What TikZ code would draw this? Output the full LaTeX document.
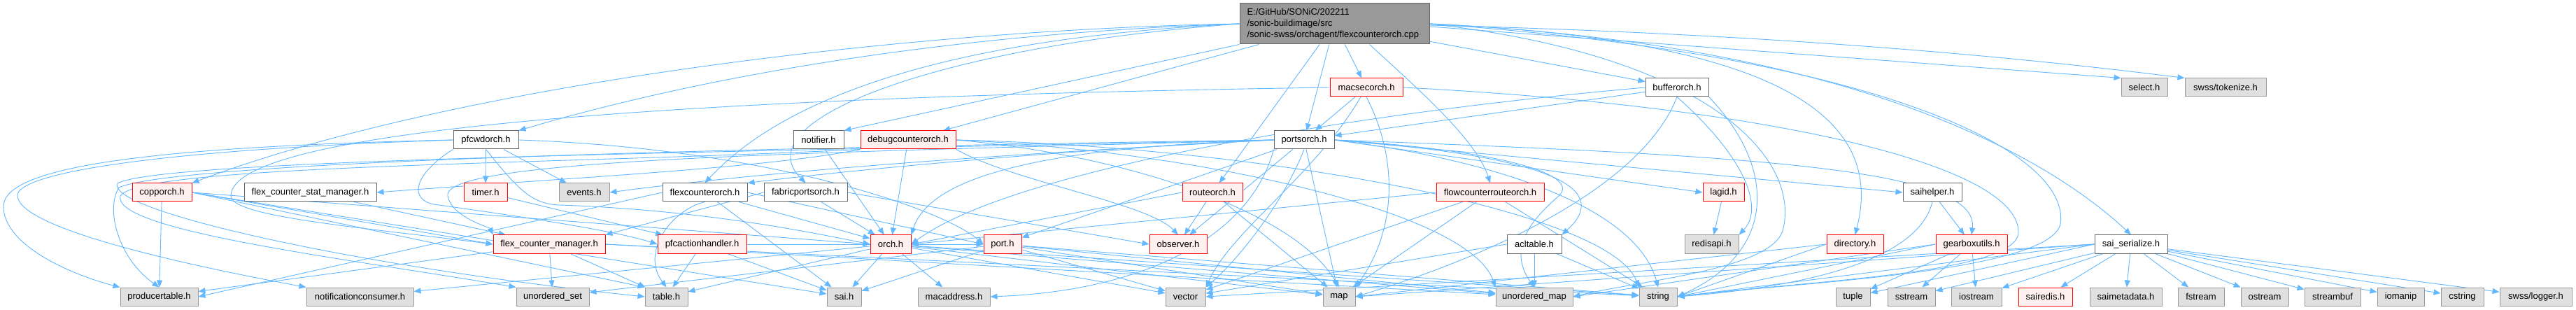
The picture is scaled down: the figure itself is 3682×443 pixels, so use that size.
\documentclass[tikz,border=0pt]{standalone}
\usepackage{fontspec}
\setmainfont{Liberation Sans}
\usetikzlibrary{arrows.meta,calc}
\definecolor{edgec}{HTML}{63B8FF}
\definecolor{redfill}{HTML}{FFF0F0}
\definecolor{grayfill}{HTML}{E0E0E0}
\definecolor{graydraw}{HTML}{999999}
\definecolor{rootfill}{HTML}{999999}
\definecolor{darkdraw}{HTML}{666666}
\pgfdeclarelayer{bg}
\pgfdeclarelayer{edges}
\pgfsetlayers{bg,edges,main}
\tikzset{
 box/.style={draw, line width=1pt, inner sep=0pt, minimum height=26pt, font=\fontsize{13}{15}\selectfont, anchor=center, text=black},
 wbox/.style={box, fill=white, draw=darkdraw},
 rbox/.style={box, fill=redfill, draw=red},
 gbox/.style={box, fill=grayfill, draw=graydraw},
 rootbox/.style={box, fill=rootfill, draw=darkdraw, minimum width=271pt, minimum height=58pt, text width=250pt, align=left, font=\fontsize{13}{16}\selectfont},
 e/.style={draw=edgec, line width=0.9pt, -{Triangle[length=10pt,width=8pt]}, fill=none},
}
\begin{document}
\begin{tikzpicture}[x=1pt,y=-1pt]
\begin{pgfonlayer}{bg}
\fill[white] (0,0) rectangle (3682,443);
\end{pgfonlayer}
\useasboundingbox (0,0) rectangle (3682,443);
% row 0
\node[rootbox] (root) at (1907.5,34) {E:/GitHub/SONiC/202211\\/sonic-buildimage/src\\/sonic-swss/orchagent/flexcounterorch.cpp};
% row 1
\node[rbox, minimum width=104pt] (macsec) at (1953,125) {macsecorch.h};
\node[wbox, minimum width=90pt] (buffer) at (2397,125) {bufferorch.h};
\node[gbox, minimum width=66pt] (select) at (3065,125) {select.h};
\node[gbox, minimum width=116pt] (tokenize) at (3181,125) {swss/tokenize.h};
% row 2
\node[wbox, minimum width=93pt] (pfcwd) at (694.5,200) {pfcwdorch.h};
\node[wbox, minimum width=72pt] (notifier) at (1170,200) {notifier.h};
\node[rbox, minimum width=136pt] (debugc) at (1298,200) {debugcounterorch.h};
\node[wbox, minimum width=86pt] (ports) at (1864,200) {portsorch.h};
% row 3
\node[rbox, minimum width=85pt] (copp) at (231.5,275) {copporch.h};
\node[wbox, minimum width=189pt] (fcstat) at (443.5,275) {flex\_counter\_stat\_manager.h};
\node[rbox, minimum width=62pt] (timer) at (694,275) {timer.h};
\node[gbox, minimum width=72pt] (events) at (835,275) {events.h};
\node[wbox, minimum width=121pt] (flexco) at (1007.5,275) {flexcounterorch.h};
\node[wbox, minimum width=119pt] (fabric) at (1151.5,275) {fabricportsorch.h};
\node[rbox, minimum width=86pt] (route) at (1733,275) {routeorch.h};
\node[rbox, minimum width=154pt] (flowc) at (2130,275) {flowcounterrouteorch.h};
\node[rbox, minimum width=59pt] (lagid) at (2463.5,275) {lagid.h};
\node[wbox, minimum width=84pt] (saihelper) at (2762,275) {saihelper.h};
% row 4
\node[rbox, minimum width=160pt] (fcm) at (785,349) {flex\_counter\_manager.h};
\node[rbox, minimum width=127pt] (pfcah) at (1003.5,349) {pfcactionhandler.h};
\node[rbox, minimum width=58pt] (orch) at (1273,349) {orch.h};
\node[rbox, minimum width=54pt] (port) at (1433,349) {port.h};
\node[rbox, minimum width=82pt] (observer) at (1684,349) {observer.h};
\node[wbox, minimum width=78pt] (acltable) at (2193,349) {acltable.h};
\node[gbox, minimum width=77pt] (redisapi) at (2446.5,349) {redisapi.h};
\node[rbox, minimum width=81pt] (directory) at (2651.5,349) {directory.h};
\node[rbox, minimum width=102pt] (gearbox) at (2818,349) {gearboxutils.h};
\node[wbox, minimum width=104pt] (saiser) at (3046,349) {sai\_serialize.h};
% row 5
\node[gbox, minimum width=111pt] (producer) at (227.5,424) {producertable.h};
\node[gbox, minimum width=153pt] (notifcons) at (514.5,424) {notificationconsumer.h};
\node[gbox, minimum width=104pt] (uset) at (790,424) {unordered\_set};
\node[gbox, minimum width=61pt] (table) at (952.5,424) {table.h};
\node[gbox, minimum width=49pt] (sai) at (1206.5,424) {sai.h};
\node[gbox, minimum width=103pt] (macaddr) at (1363.5,424) {macaddress.h};
\node[gbox, minimum width=57pt] (vector) at (1694.5,424) {vector};
\node[gbox, minimum width=46pt] (map) at (1914,424) {map};
\node[gbox, minimum width=110pt] (umap) at (2193,424) {unordered\_map};
\node[gbox, minimum width=54pt] (string) at (2370,424) {string};
\node[gbox, minimum width=49pt] (tuple) at (2648.5,424) {tuple};
\node[gbox, minimum width=68pt] (sstream) at (2732,424) {sstream};
\node[gbox, minimum width=72pt] (iostream) at (2825,424) {iostream};
\node[rbox, minimum width=77pt] (sairedis) at (2923.5,424) {sairedis.h};
\node[gbox, minimum width=103pt] (saimeta) at (3038.5,424) {saimetadata.h};
\node[gbox, minimum width=66pt] (fstream) at (3146,424) {fstream};
\node[gbox, minimum width=68pt] (ostream) at (3237,424) {ostream};
\node[gbox, minimum width=80pt] (streambuf) at (3334,424) {streambuf};
\node[gbox, minimum width=67pt] (iomanip) at (3431.5,424) {iomanip};
\node[gbox, minimum width=61pt] (cstring) at (3519.5,424) {cstring};
\node[gbox, minimum width=103pt] (logger) at (3624.5,424) {swss/logger.h};

\begin{pgfonlayer}{edges}
% root
\draw[e] (root.west) .. controls (1300,42) and (650,120) .. (copp.north east);
\draw[e] (root.west) .. controls (1350,48) and (1000,110) .. (pfcwd.north east);
\draw[e] (root.west) .. controls (1350,55) and (1120,140) .. (flexco.north);
\draw[e] (root.west) .. controls (1350,65) and (1060,170) .. (fabric.north);
\draw[e] (root.south west) -- (notifier.north east);
\draw[e] ($(root.south west)+(28,0)$) -- ($(debugc.north)+(50,0)$);
\draw[e] (root) -- (ports);
\draw[e] (root) -- (route);
\draw[e] (root) -- (macsec);
\draw[e] ($(root.south)+(50,0)$) .. controls (2030,130) and (2110,200) .. (flowc.north);
\draw[e] (root) -- (buffer);
\draw[e] ($(root.east)+(0,4)$) -- (select.north west);
\draw[e] ($(root.east)+(0,2)$) .. controls (2600,50) and (2950,90) .. (tokenize.north west);
\draw[e] (root.east) .. controls (2600,60) and (2900,200) .. (saiser.north);
\draw[e] (root.east) .. controls (2500,55) and (2700,150) .. (directory.north);
\draw[e] (root.east) .. controls (2450,80) and (2575,230) .. (2548,330) .. controls (2530,385) and (2350,400) .. (umap.east);
\draw[e] (root.east) .. controls (2700,80) and (2960,220) .. (2945,320) .. controls (2930,390) and (2550,405) .. (string.east);
% macsec
\draw[e] (macsec) -- (ports);
\draw[e] (macsec.south) .. controls (2000,230) and (1995,330) .. (map.north east);
\draw[e] ($(macsec.south)+(-8,0)$) .. controls (1880,250) and (1760,330) .. (vector.north east);
\draw[e] (macsec.west) .. controls (900,140) and (330,190) .. (330,280) .. controls (330,310) and (520,325) .. (fcm.west);
\draw[e] (macsec.east) .. controls (2500,150) and (2880,230) .. (2885,330) .. controls (2890,390) and (2600,400) .. (string.east);
% buffer
\draw[e] (buffer) -- (ports);
\draw[e] (buffer.west) .. controls (1950,160) and (1450,240) .. (orch.east);
\draw[e] (buffer.south) .. controls (2500,230) and (2520,300) .. (redisapi.north east);
\draw[e] (buffer.south east) .. controls (2540,240) and (2540,360) .. (string.east);
\draw[e] (buffer.south) .. controls (2350,260) and (2150,360) .. (map.east);
% debugc
\draw[e] (debugc) -- (orch);
\draw[e] (debugc.south west) .. controls (1100,240) and (800,255) .. (fcstat.east);
\draw[e] (debugc.south east) .. controls (1450,260) and (1640,290) .. (observer.north);
\draw[e] (debugc.east) .. controls (1600,220) and (1850,300) .. (map.north);
\draw[e] (debugc.east) .. controls (1700,215) and (2100,300) .. (umap.north west);
\draw[e] (debugc.east) .. controls (1800,210) and (2300,300) .. (string.north west);
\draw[e] (debugc.south west) .. controls (800,235) and (200,235) .. (172,280) .. controls (160,330) and (500,370) .. (uset.north west);
% ports
\draw[e] (ports.west) .. controls (1500,210) and (1330,250) .. (orch.north east);
\draw[e] (ports) -- (port);
\draw[e] (ports) -- (observer);
\draw[e] (ports) -- (map);
\draw[e] (ports.south) .. controls (1830,300) and (1760,380) .. (vector.north east);
\draw[e] (ports.south west) .. controls (1790,330) and (1650,415) .. (macaddr.east);
\draw[e] (ports.east) .. controls (2150,215) and (2260,250) .. (2228,280) .. controls (2200,305) and (2150,350) .. (umap.north);
\draw[e] (ports.east) .. controls (2200,222) and (2310,265) .. (acltable.north east);
\draw[e] (ports.east) .. controls (2150,230) and (2340,300) .. (string.north);
\draw[e] (ports.east) -- (lagid.west);
\draw[e] (ports.east) -- (saihelper.west);
\draw[e] (ports.east) .. controls (2500,222) and (2830,240) .. (gearbox.north);
\draw[e] (ports.west) .. controls (1400,222) and (1100,245) .. (events.east);
\draw[e] (ports.west) .. controls (1500,215) and (1200,245) .. (flexco.north east);
\draw[e] (ports.west) .. controls (1200,218) and (630,225) .. (640,280) .. controls (645,310) and (700,325) .. (fcm.north west);
\draw[e] (ports.west) .. controls (1000,212) and (250,232) .. (170,268) .. controls (150,300) and (170,370) .. (producer.north);
\draw[e] (ports.west) .. controls (1000,218) and (230,228) .. (168,262) .. controls (150,300) and (500,380) .. (table.west);
% port
\draw[e] (port) -- (vector);
\draw[e] (port) -- (map);
\draw[e] (port) -- (umap);
\draw[e] (port) -- (string);
\draw[e] (port) -- (sai);
\draw[e] (port) -- (uset);
% route
\draw[e] (route) -- (observer);
\draw[e] (route) -- (map);
\draw[e] (route.west) -- (orch.east);
% orch
\draw[e] (orch) -- (sai);
\draw[e] (orch) -- (macaddr);
\draw[e] (orch) -- (table);
\draw[e] (orch) -- (vector);
\draw[e] (orch) -- (map);
\draw[e] (orch) -- (umap);
\draw[e] (orch) -- (string);
\draw[e] (orch) -- (notifcons);
% fcm
\draw[e] (fcm) -- (uset);
\draw[e] (fcm) -- (table);
\draw[e] (fcm) -- (producer);
\draw[e] (fcm.east) -- (string);
\draw[e] (fcm.east) -- (umap);
% pfcah
\draw[e] (pfcah) -- (table);
\draw[e] (pfcah) -- (sai);
\draw[e] (pfcah.east) -- (port.west);
% flexco
\draw[e] (flexco.south) .. controls (960,300) and (915,360) .. (table.north);
\draw[e] (flexco) -- (sai);
\draw[e] (flexco) -- (orch);
\draw[e] (flexco.west) -- (producer.east);
\draw[e] (flexco.east) -- (port.west);
% fabric
\draw[e] (fabric) -- (orch);
\draw[e] (fabric.west) -- (fcm.north east);
\draw[e] (fabric.east) -- (observer.west);
% notifier
\draw[e] (notifier) -- (orch);
% copp
\draw[e] (copp) -- (producer);
\draw[e] (copp.east) -- (fcm.west);
\draw[e] (copp.east) -- (orch.west);
\draw[e] (copp.east) -- (table.north west);
\draw[e] (copp.east) -- (sai);
% pfcwd
\draw[e] (pfcwd) -- (timer);
\draw[e] (pfcwd) -- (events);
\draw[e] (pfcwd.west) .. controls (200,210) and (5,240) .. (5,295) .. controls (5,350) and (100,392) .. (producer.north west);
\draw[e] (pfcwd.west) .. controls (220,214) and (22,248) .. (25,280) .. controls (28,330) and (300,385) .. (notifcons.north west);
\draw[e] (pfcwd.south west) .. controls (590,250) and (585,285) .. (620,292) .. controls (750,310) and (880,330) .. (pfcah.west);
\draw[e] (pfcwd.south) .. controls (740,270) and (760,292) .. (800,293) .. controls (1000,300) and (1150,330) .. (orch.west);
\draw[e] (pfcwd.east) .. controls (1100,212) and (1350,300) .. (port.west);
% fcstat, timer
\draw[e] (fcstat) -- (fcm);
\draw[e] (timer) -- (pfcah);
% acltable
\draw[e] (acltable) -- (umap);
\draw[e] (acltable) -- (string);
\draw[e] (acltable.west) -- (vector);
% flowc
\draw[e] (flowc.west) -- (orch.east);
\draw[e] (flowc) -- (map);
\draw[e] (flowc) -- (vector);
\draw[e] (flowc) -- (string);
% lagid
\draw[e] (lagid) -- (redisapi);
% saihelper
\draw[e] (saihelper) -- (gearbox);
\draw[e] (saihelper.south) .. controls (2740,380) and (2550,412) .. (string.east);
% gearbox
\draw[e] (gearbox) -- (iostream);
\draw[e] (gearbox) -- (tuple);
\draw[e] (gearbox) -- (sstream);
\draw[e] (gearbox.west) -- (string.east);
\draw[e] (gearbox.west) -- (umap.east);
% directory
\draw[e] (directory.west) -- (string.east);
\draw[e] (directory.west) -- (map.east);
% saiser
\draw[e] (saiser) -- (sstream);
\draw[e] (saiser) -- (iostream);
\draw[e] (saiser) -- (sairedis);
\draw[e] (saiser) -- (saimeta);
\draw[e] (saiser) -- (fstream);
\draw[e] (saiser) -- (ostream);
\draw[e] (saiser) -- (streambuf);
\draw[e] (saiser) -- (iomanip);
\draw[e] (saiser) -- (cstring);
\draw[e] (saiser) -- (logger);
\draw[e] (saiser.west) -- (tuple);
\draw[e] (saiser.west) -- (string.east);
\draw[e] (saiser.west) -- (vector.east);
\draw[e] (saiser.west) -- (map.east);
\end{pgfonlayer}
\end{tikzpicture}
\end{document}
